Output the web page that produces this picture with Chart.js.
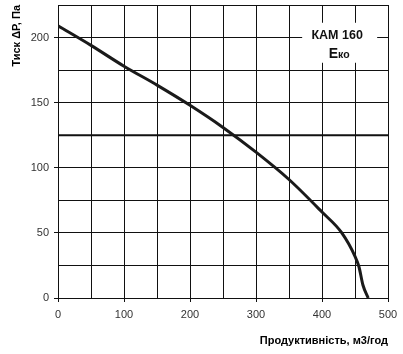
<!DOCTYPE html>
<html>
<head>
<meta charset="utf-8">
<script src="https://cdn.jsdelivr.net/npm/chart.js@4"></script>
<style>
  html, body { margin: 0; padding: 0; background: #fff; }
  #wrap { width: 403px; height: 354px; }
</style>
</head>
<body>
<div id="wrap"><canvas id="myChart"></canvas></div>
<script>
// Крива вентилятора (продуктивність, м3/год -> тиск, Па)
const flow = [0, 50, 100, 150, 200, 250, 300, 350, 400, 430, 450, 456, 462, 470];
const pressure = [209, 194, 178, 163.5, 148, 131, 112, 91, 66, 50, 32, 24, 10, 0];
// Горизонтальна лінія
const refLineX = [0, 500];
const refLineY = [125, 125];
const xTitle = 'Продуктивність, м3/год';
const yTitle = 'Тиск ΔР, Па';
const modelName = 'КАМ 160';

const fanPoints = flow.map((x, i) => ({ x: x, y: pressure[i] }));
const refPoints = refLineX.map((x, i) => ({ x: x, y: refLineY[i] }));

// Підпис моделі в білій рамці
const labelBox = {
  id: 'labelBox',
  beforeDatasetsDraw(chart) {
    const c = chart.ctx;
    const xs = chart.scales.x, ys = chart.scales.y;
    const cx = xs.getPixelForValue(426);
    const cy = ys.getPixelForValue(196);
    c.save();
    c.fillStyle = '#fff';
    c.fillRect(cx - 37, cy - 20, 75, 40);
    c.fillStyle = '#111';
    c.textAlign = 'center';
    c.textBaseline = 'middle';
    c.font = 'bold 12.5px "Liberation Sans", Arial, sans-serif';
    c.fillText(modelName, cx - 2, cy - 7);
    c.font = 'bold 14px "Liberation Sans", Arial, sans-serif';
    const w1 = c.measureText('E').width;
    c.font = 'bold 10.5px "Liberation Sans", Arial, sans-serif';
    const w2 = c.measureText('ко').width;
    const sx = cx - (w1 + w2) / 2;
    c.textAlign = 'left';
    c.font = 'bold 14px "Liberation Sans", Arial, sans-serif';
    c.fillText('E', sx, cy + 11);
    c.font = 'bold 10.5px "Liberation Sans", Arial, sans-serif';
    c.fillText('ко', sx + w1, cy + 12);
    c.restore();
  }
};

const ctx = document.getElementById('myChart').getContext('2d');
const myChart = new Chart(ctx, {
  type: 'scatter',
  data: {
    datasets: [{
      data: fanPoints,
      showLine: true,
      borderColor: '#1a1a1a',
      borderWidth: 3,
      pointRadius: 0,
      tension: 0.4,
      cubicInterpolationMode: 'monotone'
    }, {
      data: refPoints,
      showLine: true,
      borderColor: '#111',
      borderWidth: 2,
      pointRadius: 0
    }]
  },
  options: {
    responsive: true,
    maintainAspectRatio: false,
    animation: false,
    layout: { padding: { top: 5, right: 15, left: 0, bottom: 0 } },
    plugins: { legend: { display: false }, tooltip: { enabled: false } },
    scales: {
      x: {
        type: 'linear',
        min: 0, max: 500,
        afterFit: (s) => { s.height = 56; s.paddingLeft = 0; s.paddingRight = 0; },
        border: { display: false },
        grid: {
          color: '#111',
          lineWidth: 1,
          tickLength: 4,
          tickColor: (c) => (c.tick && c.tick.value % 100 === 0) ? '#111' : 'rgba(0,0,0,0)'
        },
        ticks: {
          stepSize: 50,
          padding: 6,
          maxRotation: 0,
          autoSkip: false,
          color: '#333',
          font: { family: '"Liberation Sans", Arial, sans-serif', size: 11 },
          callback: (v) => v % 100 === 0 ? v : ''
        },
        title: {
          display: true,
          text: xTitle,
          align: 'end',
          color: '#000',
          padding: { top: 0, bottom: 6 },
          font: { family: '"Liberation Sans", Arial, sans-serif', size: 11, weight: 'bold' }
        }
      },
      y: {
        min: 0, max: 225,
        afterFit: (s) => { s.width = 58; s.paddingTop = 0; s.paddingBottom = 0; },
        border: { display: false },
        grid: {
          color: '#111',
          lineWidth: 1,
          tickLength: 4,
          tickColor: (c) => (c.tick && c.tick.value % 50 === 0) ? '#111' : 'rgba(0,0,0,0)'
        },
        ticks: {
          stepSize: 25,
          padding: 5,
          autoSkip: false,
          color: '#333',
          font: { family: '"Liberation Sans", Arial, sans-serif', size: 11 },
          callback: (v) => v % 50 === 0 ? v : ''
        },
        title: {
          display: true,
          text: yTitle,
          align: 'end',
          color: '#000',
          padding: { top: 10, bottom: 0 },
          font: { family: '"Liberation Sans", Arial, sans-serif', size: 11, weight: 'bold' }
        }
      }
    }
  },
  plugins: [labelBox]
});
</script>
</body>
</html>
